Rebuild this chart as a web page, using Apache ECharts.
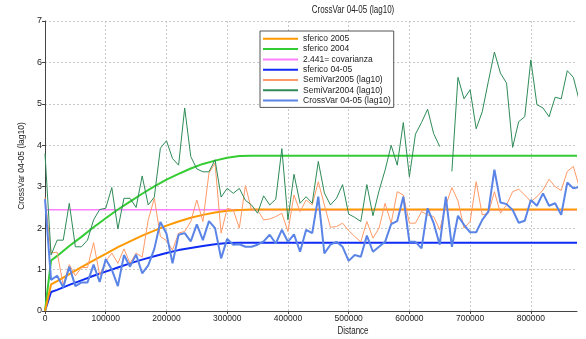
<!DOCTYPE html>
<html>
<head>
<meta charset="utf-8">
<script src="https://cdn.jsdelivr.net/npm/echarts@6/dist/echarts.min.js"></script>
<style>html,body{margin:0;padding:0;background:#fff;}#c{width:586px;height:339px;}</style>
</head>
<body>
<div id="c"></div>
<script>
const FONT = "'Liberation Sans',Arial,sans-serif";
const titleText = 'CrossVar 04-05 (lag10)';
const xName = 'Distance';
const yName = 'CrossVar 04-05 (lag10)';
const xMax = 876000, xInterval = 100000;
const yMax = 7, yInterval = 1;

const lagDist = [0,10000,20000,30000,40000,50000,60000,70000,80000,90000,100000,110000,120000,130000,140000,150000,160000,170000,180000,190000,200000,210000,220000,230000,240000,250000,260000,270000,280000,290000,300000,310000,320000,330000,340000,350000,360000,370000,380000,390000,400000,410000,420000,430000,440000,450000,460000,470000,480000,490000,500000,510000,520000,530000,540000,550000,560000,570000,580000,590000,600000,610000,620000,630000,640000,650000,660000,670000,680000,690000,700000,710000,720000,730000,740000,750000,760000,770000,780000,790000,800000,810000,820000,830000,840000,850000,860000,870000,880000];

const semiVar2004 = [3.8,1.35,1.71,1.71,2.6,1.55,1.55,1.71,2.2,2.45,
2.48,2.98,1.98,2.72,2.72,2.5,3.26,2.56,2.75,3.93,
4.11,3.68,3.52,4.9,3.73,3.43,3.36,3.36,3.65,2.75,
2.96,2.84,2.96,2.67,2.56,2.36,2.78,2.56,2.7,3.92,
2.2,3.3,2.6,2.76,2.6,3.61,2.85,2.56,2.72,3.05,
2.34,2.26,2.16,3.05,2.3,2.9,3.4,4.0,3.52,4.55,
3.24,4.27,4.55,4.87,4.28,3.97,null,3.37,5.64,5.12,
5.34,4.4,4.81,5.54,6.25,5.74,5.5,3.95,4.57,4.69,
6.06,4.98,4.9,4.69,5.16,5.12,5.8,5.64,5.06];

const semiVar2005 = [2.75,1.4,1.42,0.62,1.12,0.85,1.05,1.05,1.65,0.87,
1.2,1.4,1.15,1.5,1.15,1.4,1.3,2.2,2.72,1.8,
1.7,1.47,1.88,1.92,2.16,2.68,2.16,3.33,3.57,1.88,
2.48,2.44,2.0,3.03,2.44,2.44,2.2,2.22,2.28,2.36,
1.92,2.8,2.4,2.68,2.56,3.12,2.56,2.02,2.04,2.12,
1.94,1.8,1.67,2.16,1.76,2.0,2.6,2.12,2.88,2.8,
2.12,2.12,2.4,2.32,2.28,1.96,2.55,2.98,2.66,2.0,
2.16,3.12,2.32,2.36,2.88,2.36,2.56,2.88,2.94,2.8,
2.64,2.76,2.92,3.18,3.0,2.91,3.37,3.49,2.98];

const crossVar = [2.7,0.75,0.85,0.57,1.07,0.6,0.69,0.69,1.12,0.7,
1.25,1.0,0.6,1.35,1.07,1.36,0.91,1.1,1.5,2.15,
1.87,1.15,1.84,1.88,1.68,2.09,1.71,2.17,2.0,1.27,
1.74,1.6,1.61,1.55,1.55,1.6,1.68,1.84,1.63,1.96,
1.67,1.85,1.43,1.96,1.88,2.76,1.39,1.6,1.67,1.55,
1.21,1.35,1.31,1.82,1.43,1.55,1.67,2.1,2.17,2.76,
1.67,1.67,1.51,2.48,2.12,1.6,2.76,1.55,2.3,2.08,
1.9,1.9,2.2,2.4,3.41,2.62,2.58,2.44,2.13,2.18,
2.68,2.54,2.84,2.54,2.6,2.32,3.1,2.96,3.0];

const modelDist = [0,10000,20000,40000,60000,80000,100000,120000,140000,160000,180000,200000,220000,240000,260000,280000,300000,320000,340000,876000];
const sferico2004 = [0,1.22,1.33,1.57,1.79,2.02,2.24,2.45,2.64,2.83,3.01,3.17,3.31,3.44,3.55,3.63,3.70,3.74,3.75,3.75];
const sferico2005 = [0,0.64,0.72,0.89,1.06,1.22,1.38,1.54,1.68,1.82,1.94,2.06,2.16,2.25,2.32,2.38,2.42,2.44,2.45,2.45];
const sferico0405 = [0,0.46,0.51,0.63,0.74,0.85,0.95,1.05,1.15,1.24,1.32,1.40,1.47,1.52,1.57,1.61,1.64,1.65,1.65,1.65];
const covDist = [0, 876000];
const covarianza = [2.441, 2.441];

const names = ['sferico 2005','sferico 2004','2.441= covarianza','sferico 04-05','SemiVar2005 (lag10)','SemiVar2004 (lag10)','CrossVar 04-05 (lag10)'];
const colors = {
  s2005:'#ff9900', s2004:'#33cc33', cov:'#ff80ff', s0405:'#0f2cf5',
  v2005:'#ff9966', v2004:'#2e8b57', cross:'#5a84e6'
};

function pairs(xs, ys){ return xs.map((x,i)=>[x, ys[i]===null ? '-' : ys[i]]); }
function line(name, xs, ys, color, width, z){
  return {name, type:'line', data:pairs(xs, ys), symbol:'none', showSymbol:false,
    lineStyle:{color, width}, itemStyle:{color}, z, clip:true, connectNulls:false, animation:false};
}

const chart = echarts.init(document.getElementById('c'), null, {renderer:'canvas'});
chart.setOption({
  animation:false,
  backgroundColor:'#ffffff',
  textStyle:{fontFamily:FONT},
  grid:{left:45, right:9, top:21, bottom:28, containLabel:false},
  graphic:[
    {type:'text', x:353, y:10, scaleX:0.8, style:{text:titleText, fontFamily:FONT, fontSize:10, fill:'#222', textAlign:'center', textVerticalAlign:'middle'}},
    {type:'text', x:353, y:331, scaleX:0.8, style:{text:xName, fontFamily:FONT, fontSize:10, fill:'#222', textAlign:'center', textVerticalAlign:'middle'}}
  ],
  legend:{
    data:names, orient:'vertical', left:260, top:31,
    itemWidth:35, itemHeight:12, itemGap:0.7, padding:[3,3,2,2],
    backgroundColor:'#fff', borderColor:'#555', borderWidth:1, borderRadius:0,
    itemStyle:{opacity:0},
    textStyle:{fontFamily:FONT, fontSize:8.5, color:'#222'},
    selectedMode:false
  },
  xAxis:{
    type:'value', min:0, max:xMax, interval:xInterval,
    axisLine:{show:true, onZero:false, lineStyle:{color:'#444', width:1}},
    axisTick:{show:true, length:3, lineStyle:{color:'#444'}},
    axisLabel:{fontFamily:FONT, fontSize:8.5, color:'#222', margin:3, showMaxLabel:false, formatter:v=>String(v)},
    splitLine:{show:true, showMaxLine:false, lineStyle:{color:'#c8c8c8', type:[2,2], width:1}}
  },
  yAxis:{
    type:'value', min:0, max:yMax, interval:yInterval,
    name:yName, nameLocation:'middle', nameGap:19, nameRotate:90,
    nameTextStyle:{fontFamily:FONT, fontSize:8.5, color:'#222'},
    axisLine:{show:true, lineStyle:{color:'#444', width:1}},
    axisTick:{show:true, length:3, lineStyle:{color:'#444'}},
    axisLabel:{fontFamily:FONT, fontSize:9, color:'#222', margin:3, formatter:v=>String(v)},
    splitLine:{show:true, lineStyle:{color:'#c8c8c8', type:[2,2], width:1}}
  },
  series:[
    line(names[2], covDist, covarianza, colors.cov, 1.5, 2),
    line(names[3], modelDist, sferico0405, colors.s0405, 2, 3),
    line(names[1], modelDist, sferico2004, colors.s2004, 2, 3),
    line(names[0], modelDist, sferico2005, colors.s2005, 2, 4),
    line(names[4], lagDist, semiVar2005, colors.v2005, 1, 5),
    line(names[5], lagDist, semiVar2004, colors.v2004, 1, 6),
    line(names[6], lagDist, crossVar, colors.cross, 2, 7)
  ]
});
</script>
</body>
</html>
